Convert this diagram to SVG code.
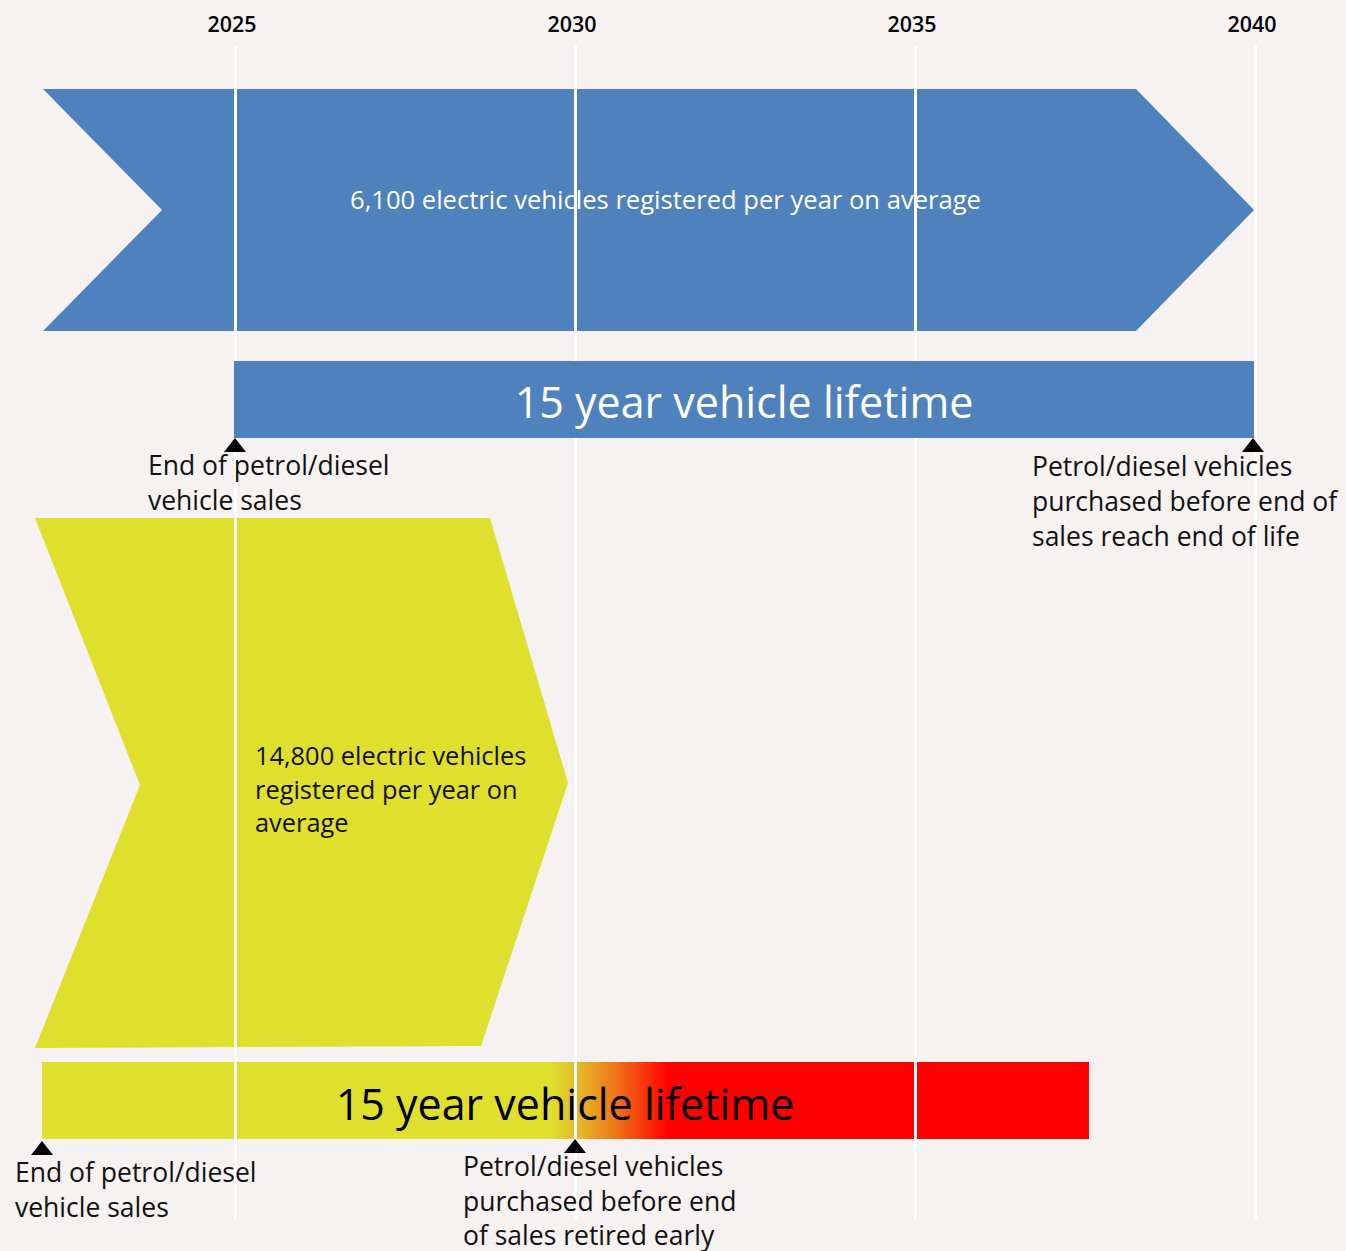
<svg xmlns="http://www.w3.org/2000/svg" width="1346" height="1251" viewBox="0 0 1346 1251">
<style>
  text { font-family: "Open Sans", "Noto Sans", "Liberation Sans", sans-serif; }
  .year { font-size: 22px; font-weight: 600; fill: #000; text-anchor: middle; }
  .label { font-size: 26.5px; fill: #111; }
  .inner { font-size: 25.4px; fill: #111; }
  .big { font-size: 43px; text-anchor: middle; }
  .grid { stroke: #FFFFFF; stroke-width: 3; }
  .tri { fill: #000; }
</style>
<defs>
  <linearGradient id="fade" gradientUnits="userSpaceOnUse" x1="552" y1="0" x2="668" y2="0">
    <stop offset="0" stop-color="#DFDC2E"/>
    <stop offset="0.2" stop-color="#E2BD2A"/>
    <stop offset="0.35" stop-color="#E8A023"/>
    <stop offset="0.55" stop-color="#EE7419"/>
    <stop offset="0.75" stop-color="#F6420E"/>
    <stop offset="1" stop-color="#FF0000"/>
  </linearGradient>
</defs>
<rect x="0" y="0" width="1346" height="1251" fill="#F5F2F1"/>

<g id="years">
  <text class="year" x="232" y="32" textLength="49" lengthAdjust="spacingAndGlyphs">2025</text>
  <text class="year" x="572" y="32" textLength="49" lengthAdjust="spacingAndGlyphs">2030</text>
  <text class="year" x="912" y="32" textLength="49" lengthAdjust="spacingAndGlyphs">2035</text>
  <text class="year" x="1252" y="32" textLength="49" lengthAdjust="spacingAndGlyphs">2040</text>
</g>

<g id="blue-arrow">
  <polygon points="43,89 1136,89 1254,210 1136,331 43,331 162,210" fill="#4F81BD"/>
</g>

<g id="yellow-arrow">
  <polygon points="35,518 490,518 568,783 481,1046 35,1048 140,785" fill="#DFDF2E"/>
</g>

<g id="yellow-bar">
  <rect x="42" y="1062" width="513" height="77" fill="#DFDF2E"/>
  <rect x="552" y="1062" width="537" height="77" fill="url(#fade)"/>
</g>

<g id="connectors">
  <line class="grid" x1="235.5" y1="46" x2="235.5" y2="1220"/>
  <line class="grid" x1="575.5" y1="46" x2="575.5" y2="1220"/>
  <line class="grid" x1="915.5" y1="46" x2="915.5" y2="1220"/>
  <line class="grid" x1="1255.5" y1="46" x2="1255.5" y2="1220"/>
</g>

<g id="blue-bar">
  <rect x="234" y="361" width="1020" height="77" fill="#4F81BD"/>
  <text class="big" x="744" y="418" fill="#FFFFFF">15 year vehicle lifetime</text>
</g>

<g id="blue-arrow-label">
  <text x="350" y="209" font-size="26" fill="#FFFFFF" textLength="631" lengthAdjust="spacingAndGlyphs">6,100 electric vehicles registered per year on average</text>
</g>

<g id="yellow-arrow-label">
  <text class="inner" x="255" y="765">14,800 electric vehicles</text>
  <text class="inner" x="255" y="799">registered per year on</text>
  <text class="inner" x="255" y="832">average</text>
</g>

<g id="yellow-bar-label">
  <text class="big" x="565" y="1120" fill="#000000">15 year vehicle lifetime</text>
</g>

<g id="marker-top-left">
  <polygon class="tri" points="235,438 224,452 246,452"/>
  <text class="label" x="148" y="475">End of petrol/diesel</text>
  <text class="label" x="148" y="510">vehicle sales</text>
</g>

<g id="marker-top-right">
  <polygon class="tri" points="1253,438 1242,452 1264,452"/>
  <text class="label" x="1032" y="476">Petrol/diesel vehicles</text>
  <text class="label" x="1032" y="511">purchased before end of</text>
  <text class="label" x="1032" y="546">sales reach end of life</text>
</g>

<g id="marker-bottom-left">
  <polygon class="tri" points="42,1141 31,1155 53,1155"/>
  <text class="label" x="15" y="1182">End of petrol/diesel</text>
  <text class="label" x="15" y="1217">vehicle sales</text>
</g>

<g id="marker-bottom-right">
  <polygon class="tri" points="575,1139 564,1153 586,1153"/>
  <text class="label" x="463" y="1176">Petrol/diesel vehicles</text>
  <text class="label" x="463" y="1211">purchased before end</text>
  <text class="label" x="463" y="1245">of sales retired early</text>
</g>
</svg>
